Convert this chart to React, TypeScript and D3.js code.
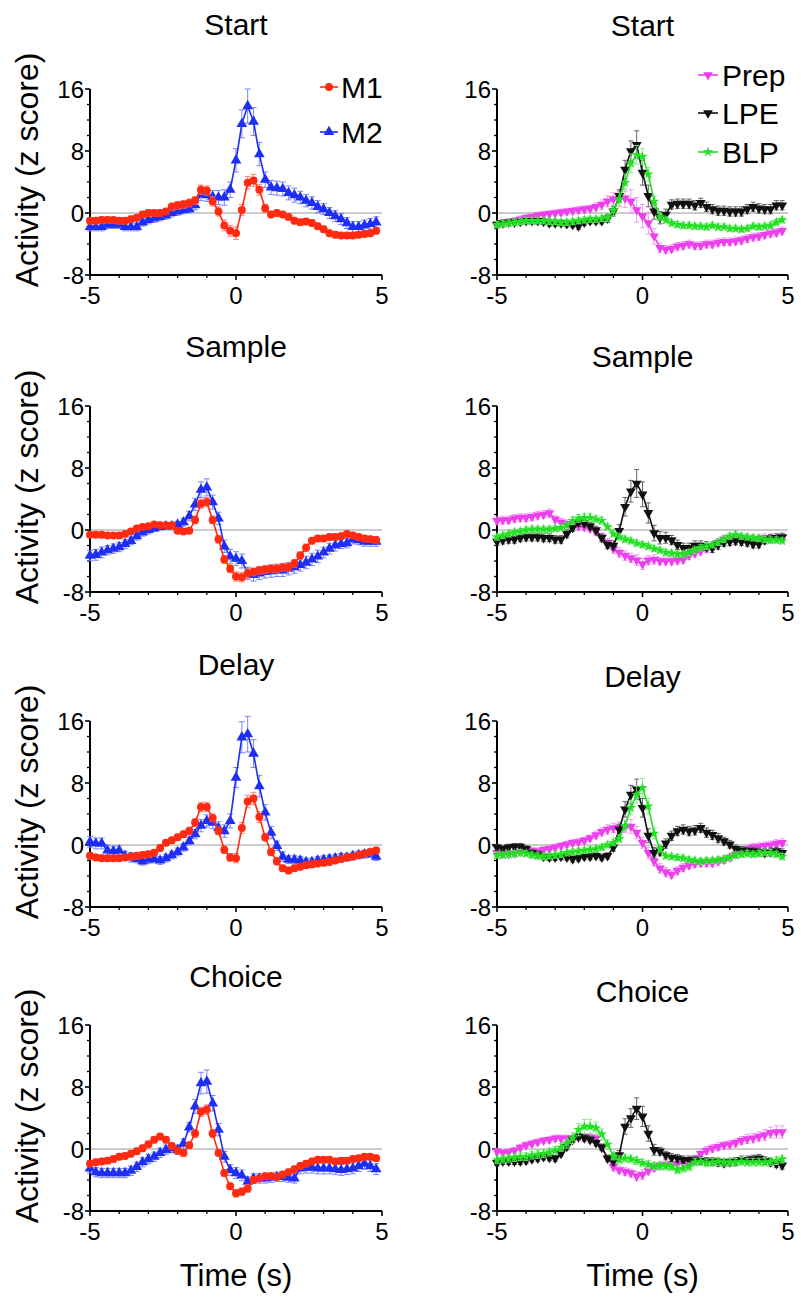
import * as d3 from "d3";

// time bins (s) shared by every trace
const TIME = [
  -5.0, -4.8, -4.6, -4.4, -4.2, -4.0, -3.8, -3.6, -3.4, -3.2,
  -3.0, -2.8, -2.6, -2.4, -2.2, -2.0, -1.8, -1.6, -1.4, -1.2,
  -1.0, -0.8, -0.6, -0.4, -0.2, 0.0, 0.2, 0.4, 0.6, 0.8,
  1.0, 1.2, 1.4, 1.6, 1.8, 2.0, 2.2, 2.4, 2.6, 2.8,
  3.0, 3.2, 3.4, 3.6, 3.8, 4.0, 4.2, 4.4, 4.6, 4.8,
];

const EVENTS = ["Start", "Sample", "Delay", "Choice"];
const Y_TICKS = [-8, 0, 8, 16];
const Y_MINOR = [-6, -4, -2, 2, 4, 6, 10, 12, 14];
const X_TICKS = [-5, 0, 5];
const X_MINOR = [-4, -3, -2, -1, 1, 2, 3, 4];

// ---- Start ----
const START_M1 = [
  -1.0, -1.0, -0.9, -0.9, -0.9, -1.0, -1.0, -0.8, -0.6, -0.2,
  0.0, 0.0, 0.0, 0.2, 0.8, 1.0, 1.1, 1.3, 1.6, 3.0,
  2.9, 1.5, 0.2, -1.6, -2.3, -2.6, 0.4, 3.9, 4.2, 3.0,
  0.6, -0.2, 0.0, -0.2, -0.5, -1.0, -1.2, -1.1, -1.3, -1.7,
  -2.1, -2.6, -2.8, -2.9, -2.9, -2.9, -2.8, -2.7, -2.6, -2.3,
];
const START_M1_ERR = [
  0.4, 0.4, 0.4, 0.4, 0.4, 0.4, 0.4, 0.4, 0.4, 0.4,
  0.4, 0.4, 0.4, 0.4, 0.5, 0.5, 0.5, 0.5, 0.5, 0.6,
  0.6, 0.6, 0.6, 0.7, 0.7, 0.8, 0.7, 0.8, 0.8, 0.7,
  0.5, 0.4, 0.4, 0.4, 0.4, 0.4, 0.4, 0.4, 0.4, 0.4,
  0.4, 0.4, 0.4, 0.4, 0.4, 0.4, 0.4, 0.4, 0.4, 0.4,
];
const START_M2 = [
  -1.8, -1.8, -1.8, -1.5, -1.5, -1.5, -1.8, -1.8, -1.8, -1.2,
  -0.9, -0.7, -0.5, -0.3, 0.0, 0.2, 0.4, 0.5, 1.0, 2.4,
  2.3, 2.1, 2.0, 2.0, 3.0, 6.8, 11.5, 13.8, 11.8, 7.6,
  4.3, 3.3, 3.2, 3.1, 2.6, 2.3, 2.0, 1.6, 1.3, 0.8,
  0.5, 0.0, -0.4, -0.8, -1.3, -1.8, -1.8, -1.6, -1.4, -1.2,
];
const START_M2_ERR = [
  0.5, 0.5, 0.5, 0.5, 0.5, 0.5, 0.5, 0.5, 0.5, 0.5,
  0.5, 0.5, 0.5, 0.5, 0.5, 0.5, 0.5, 0.5, 0.6, 0.8,
  0.8, 0.8, 0.9, 1.0, 1.0, 1.5, 1.8, 2.2, 1.8, 1.5,
  1.0, 0.9, 0.9, 0.9, 0.9, 0.9, 0.8, 0.8, 0.8, 0.8,
  0.7, 0.7, 0.7, 0.7, 0.7, 0.7, 0.7, 0.7, 0.7, 0.7,
];
const START_PREP = [
  -1.5, -1.3, -1.2, -1.0, -0.8, -0.6, -0.5, -0.3, -0.2, -0.1,
  0.0, 0.1, 0.2, 0.3, 0.4, 0.5, 0.6, 0.8, 1.1, 1.5,
  1.8, 1.8, 1.9, 1.5, 0.4, -0.4, -1.3, -3.0, -4.5, -4.7,
  -4.6, -4.3, -4.2, -4.0, -4.2, -4.2, -4.0, -4.0, -3.8, -3.7,
  -3.7, -3.6, -3.5, -3.3, -3.1, -3.0, -2.8, -2.6, -2.5, -2.3,
];
const START_PREP_ERR = [
  0.4, 0.4, 0.4, 0.4, 0.4, 0.4, 0.4, 0.4, 0.4, 0.4,
  0.4, 0.4, 0.4, 0.4, 0.4, 0.4, 0.4, 0.5, 0.6, 0.7,
  0.8, 1.0, 1.2, 1.5, 1.6, 1.5, 1.4, 1.0, 0.6, 0.5,
  0.5, 0.5, 0.5, 0.5, 0.5, 0.5, 0.5, 0.5, 0.5, 0.5,
  0.5, 0.5, 0.5, 0.5, 0.5, 0.5, 0.5, 0.5, 0.5, 0.5,
];
const START_LPE = [
  -1.5, -1.3, -1.2, -1.2, -1.1, -1.0, -1.0, -1.0, -1.1, -1.3,
  -1.3, -1.3, -1.4, -1.5, -1.7, -1.2, -1.0, -1.0, -1.0, -0.7,
  0.2, 2.2, 5.6, 8.0, 8.8, 5.2, 2.2, 0.2, -0.6, -0.2,
  1.1, 1.2, 1.2, 1.2, 1.0, 1.3, 0.8, 0.5, 0.3, 0.3,
  0.2, 0.2, 0.2, 0.5, 0.8, 0.6, 0.5, 0.5, 1.0, 1.0,
];
const START_LPE_ERR = [
  0.4, 0.4, 0.4, 0.4, 0.4, 0.4, 0.4, 0.4, 0.4, 0.4,
  0.4, 0.4, 0.4, 0.4, 0.4, 0.4, 0.4, 0.4, 0.4, 0.5,
  0.6, 0.8, 1.2, 1.3, 1.8, 1.6, 1.4, 1.0, 0.8, 0.7,
  0.6, 0.6, 0.6, 0.6, 0.6, 0.6, 0.6, 0.6, 0.6, 0.6,
  0.6, 0.6, 0.6, 0.6, 0.6, 0.6, 0.6, 0.6, 0.6, 0.6,
];
const START_BLP = [
  -1.5, -1.4, -1.3, -1.2, -1.1, -1.0, -1.0, -1.0, -1.0, -1.1,
  -1.1, -1.2, -1.2, -1.1, -1.0, -0.9, -0.8, -0.8, -0.7, -0.6,
  0.3, 1.8, 3.9, 6.4, 7.5, 7.3, 5.0, 1.5, -0.5, -0.9,
  -1.3, -1.5, -1.6, -1.6, -1.7, -1.7, -1.8, -1.6, -1.8, -1.8,
  -2.0, -2.0, -2.1, -2.0, -1.7, -1.8, -1.7, -1.6, -1.2, -0.9,
];
const START_BLP_ERR = [
  0.4, 0.4, 0.4, 0.4, 0.4, 0.4, 0.4, 0.4, 0.4, 0.4,
  0.4, 0.4, 0.4, 0.4, 0.4, 0.4, 0.4, 0.4, 0.4, 0.5,
  0.7, 0.9, 1.1, 1.2, 1.2, 1.0, 0.9, 0.7, 0.5, 0.4,
  0.4, 0.4, 0.4, 0.4, 0.4, 0.4, 0.4, 0.4, 0.4, 0.4,
  0.4, 0.4, 0.4, 0.4, 0.4, 0.4, 0.4, 0.4, 0.4, 0.4,
];

// ---- Sample ----
const SAMPLE_M1 = [
  -0.6, -0.6, -0.6, -0.7, -0.7, -0.7, -0.5, -0.2, 0.2, 0.4,
  0.5, 0.7, 0.6, 0.6, 0.6, -0.1, -0.2, -0.1, 1.3, 3.4,
  3.6, 1.3, -1.2, -3.8, -5.0, -6.0, -6.1, -5.6, -5.4, -5.2,
  -5.1, -5.0, -5.0, -4.8, -4.8, -4.3, -3.3, -2.3, -1.4, -1.1,
  -1.1, -0.9, -0.9, -0.8, -0.5, -0.7, -0.9, -1.1, -1.2, -1.3,
];
const SAMPLE_M1_ERR = [
  0.3, 0.3, 0.3, 0.3, 0.3, 0.3, 0.3, 0.3, 0.3, 0.3,
  0.3, 0.3, 0.3, 0.3, 0.3, 0.3, 0.3, 0.3, 0.5, 0.6,
  0.6, 0.5, 0.5, 0.5, 0.5, 0.6, 0.6, 0.6, 0.5, 0.5,
  0.5, 0.5, 0.5, 0.5, 0.5, 0.5, 0.5, 0.5, 0.4, 0.4,
  0.4, 0.4, 0.4, 0.4, 0.4, 0.4, 0.4, 0.4, 0.4, 0.4,
];
const SAMPLE_M2 = [
  -3.3, -3.2, -2.9, -2.6, -2.4, -2.2, -1.8, -1.4, -0.8, -0.3,
  0.0, 0.2, 0.4, 0.5, 0.5, 0.7, 1.0, 1.8, 3.3, 5.2,
  5.5, 3.6, 1.5, -2.1, -3.4, -3.7, -4.0, -5.6, -5.8, -5.6,
  -5.4, -5.3, -5.2, -5.2, -5.0, -4.8, -4.5, -4.2, -3.8, -3.4,
  -2.9, -2.4, -2.0, -1.8, -1.7, -1.2, -1.3, -1.5, -1.5, -1.5,
];
const SAMPLE_M2_ERR = [
  0.7, 0.7, 0.7, 0.6, 0.6, 0.6, 0.6, 0.5, 0.5, 0.5,
  0.5, 0.4, 0.4, 0.4, 0.4, 0.4, 0.5, 0.6, 0.8, 1.0,
  1.1, 0.9, 0.8, 0.8, 0.9, 0.9, 0.9, 0.8, 0.8, 0.8,
  0.8, 0.8, 0.8, 0.8, 0.8, 0.8, 0.8, 0.8, 0.8, 0.8,
  0.7, 0.7, 0.7, 0.6, 0.6, 0.6, 0.6, 0.6, 0.6, 0.6,
];
const SAMPLE_PREP = [
  1.2, 1.3, 1.3, 1.5, 1.6, 1.6, 1.7, 1.9, 2.0, 2.2,
  1.4, 1.0, 0.8, 0.6, 0.5, 0.4, 0.2, -0.2, -0.9, -1.6,
  -2.4, -2.9, -3.3, -3.6, -3.9, -4.4, -3.9, -3.8, -4.0, -4.0,
  -4.0, -3.9, -3.8, -3.3, -3.0, -2.7, -2.4, -2.1, -1.6, -1.2,
  -1.0, -1.0, -1.1, -1.2, -1.2, -1.1, -1.0, -1.0, -1.0, -1.0,
];
const SAMPLE_PREP_ERR = [
  0.5, 0.5, 0.5, 0.5, 0.5, 0.5, 0.5, 0.5, 0.5, 0.5,
  0.5, 0.5, 0.5, 0.5, 0.5, 0.5, 0.5, 0.5, 0.5, 0.5,
  0.6, 0.6, 0.6, 0.6, 0.7, 0.7, 0.6, 0.6, 0.5, 0.5,
  0.5, 0.5, 0.5, 0.5, 0.5, 0.5, 0.5, 0.5, 0.5, 0.5,
  0.5, 0.5, 0.5, 0.5, 0.5, 0.5, 0.5, 0.5, 0.5, 0.5,
];
const SAMPLE_LPE = [
  -1.5, -1.3, -1.2, -1.2, -1.0, -0.9, -0.9, -0.9, -1.0, -1.0,
  -1.2, -1.2, -0.5, 0.3, 1.0, 0.9, 0.5, 0.0, -1.0, -1.9,
  -2.0, -0.1, 3.0, 5.0, 6.0, 4.6, 2.2, -0.4, -1.0, -1.0,
  -1.3, -1.9, -2.3, -2.3, -2.0, -2.0, -2.1, -2.3, -1.9, -1.6,
  -1.5, -1.4, -1.5, -1.6, -1.8, -1.8, -1.3, -1.1, -1.0, -0.9,
];
const SAMPLE_LPE_ERR = [
  0.5, 0.5, 0.5, 0.5, 0.5, 0.5, 0.5, 0.5, 0.5, 0.5,
  0.5, 0.5, 0.5, 0.5, 0.5, 0.5, 0.5, 0.5, 0.5, 0.5,
  0.6, 0.8, 1.2, 1.4, 1.8, 1.6, 1.3, 1.0, 0.8, 0.7,
  0.6, 0.6, 0.6, 0.6, 0.6, 0.6, 0.6, 0.6, 0.6, 0.5,
  0.5, 0.5, 0.5, 0.5, 0.5, 0.5, 0.5, 0.5, 0.5, 0.5,
];
const SAMPLE_BLP = [
  -0.9, -0.7, -0.5, -0.3, -0.2, 0.0, 0.1, 0.1, 0.1, 0.1,
  0.2, 0.3, 0.6, 1.2, 1.5, 1.6, 1.6, 1.4, 1.2, 0.4,
  -0.5, -0.9, -1.2, -1.4, -1.7, -1.9, -2.1, -2.4, -2.6, -2.9,
  -3.0, -3.1, -3.1, -2.9, -2.6, -2.3, -2.1, -1.9, -1.6, -1.2,
  -0.8, -0.6, -0.8, -0.9, -1.0, -1.1, -1.2, -1.3, -1.3, -1.4,
];
const SAMPLE_BLP_ERR = [
  0.4, 0.4, 0.4, 0.4, 0.4, 0.4, 0.4, 0.4, 0.4, 0.4,
  0.4, 0.4, 0.4, 0.5, 0.5, 0.5, 0.5, 0.5, 0.5, 0.4,
  0.4, 0.4, 0.4, 0.4, 0.4, 0.4, 0.4, 0.4, 0.4, 0.4,
  0.4, 0.4, 0.4, 0.4, 0.4, 0.4, 0.4, 0.4, 0.4, 0.4,
  0.4, 0.4, 0.4, 0.4, 0.4, 0.4, 0.4, 0.4, 0.4, 0.4,
];

// ---- Delay ----
const DELAY_M1 = [
  -1.4, -1.6, -1.7, -1.7, -1.7, -1.7, -1.6, -1.5, -1.4, -1.3,
  -1.2, -1.0, -0.4, 0.3, 0.6, 1.0, 1.4, 1.8, 2.9, 4.9,
  4.9, 3.5, 1.8, -0.6, -1.6, -1.7, 2.2, 5.6, 6.0, 3.6,
  1.0, -0.9, -2.1, -3.0, -3.3, -3.0, -2.8, -2.6, -2.5, -2.4,
  -2.3, -2.2, -2.0, -1.8, -1.6, -1.5, -1.3, -1.1, -0.9, -0.7,
];
const DELAY_M1_ERR = [
  0.4, 0.4, 0.4, 0.4, 0.4, 0.4, 0.4, 0.4, 0.4, 0.4,
  0.4, 0.4, 0.4, 0.4, 0.4, 0.4, 0.4, 0.5, 0.5, 0.6,
  0.6, 0.5, 0.5, 0.5, 0.5, 0.6, 0.7, 0.8, 0.8, 0.7,
  0.5, 0.5, 0.5, 0.4, 0.4, 0.4, 0.4, 0.4, 0.4, 0.4,
  0.4, 0.4, 0.4, 0.4, 0.4, 0.4, 0.4, 0.4, 0.4, 0.4,
];
const DELAY_M2 = [
  0.4, 0.2, 0.2, -0.7, -0.8, -0.7, -1.4, -1.6, -1.8, -2.1,
  -1.9, -1.8, -2.0, -1.7, -1.3, -0.9, -0.3, 0.5, 1.4, 2.5,
  3.1, 2.9, 2.2, 1.8, 3.1, 8.7, 13.9, 14.3, 11.8, 7.6,
  4.2, 1.6, -0.1, -1.5, -1.9, -1.9, -2.0, -2.2, -2.2, -2.0,
  -1.9, -1.8, -1.7, -1.6, -1.6, -1.4, -1.3, -1.2, -1.1, -1.5,
];
const DELAY_M2_ERR = [
  0.7, 0.7, 0.7, 0.7, 0.6, 0.6, 0.6, 0.6, 0.5, 0.5,
  0.5, 0.5, 0.5, 0.5, 0.5, 0.5, 0.5, 0.5, 0.6, 0.8,
  0.8, 0.8, 0.8, 0.8, 0.9, 1.3, 2.0, 2.3, 1.8, 1.4,
  1.0, 0.8, 0.6, 0.6, 0.5, 0.5, 0.5, 0.5, 0.5, 0.5,
  0.5, 0.5, 0.5, 0.5, 0.5, 0.5, 0.5, 0.5, 0.5, 0.5,
];
const DELAY_PREP = [
  -1.0, -1.1, -1.2, -1.1, -0.9, -0.6, -0.7, -0.8, -0.6, -0.5,
  -0.3, -0.1, 0.1, 0.3, 0.4, 0.6, 0.9, 1.3, 1.7, 2.0,
  2.2, 2.3, 2.4, 2.4, 1.6, 0.3, -1.0, -2.1, -3.0, -3.5,
  -3.8, -3.3, -2.9, -2.6, -2.4, -2.3, -2.3, -2.3, -2.1, -1.9,
  -1.6, -1.2, -0.9, -0.5, -0.3, -0.2, -0.1, 0.0, 0.2, 0.3,
];
const DELAY_PREP_ERR = [
  0.4, 0.4, 0.4, 0.4, 0.4, 0.4, 0.4, 0.4, 0.4, 0.4,
  0.4, 0.4, 0.4, 0.4, 0.4, 0.4, 0.4, 0.5, 0.5, 0.6,
  0.6, 0.7, 0.8, 0.9, 0.8, 0.7, 0.7, 0.6, 0.6, 0.6,
  0.5, 0.5, 0.5, 0.5, 0.5, 0.5, 0.5, 0.5, 0.5, 0.5,
  0.5, 0.5, 0.5, 0.5, 0.5, 0.5, 0.5, 0.5, 0.5, 0.5,
];
const DELAY_LPE = [
  -0.3, -0.5, -0.3, -0.2, -0.2, -0.5, -1.0, -1.2, -1.5, -1.6,
  -1.6, -1.5, -1.6, -1.8, -1.7, -1.5, -1.5, -1.4, -1.6, -1.4,
  -0.3, 2.0, 4.6, 6.5, 7.2, 4.8, 1.2, -1.0, -0.8, 0.2,
  1.2, 1.8, 2.0, 1.8, 1.9, 2.2, 1.6, 1.3, 0.9, 0.5,
  0.1, -0.5, -0.7, -0.8, -0.8, -0.9, -1.0, -0.9, -0.8, -1.0,
];
const DELAY_LPE_ERR = [
  0.4, 0.4, 0.4, 0.4, 0.4, 0.4, 0.4, 0.4, 0.4, 0.4,
  0.4, 0.4, 0.4, 0.4, 0.4, 0.4, 0.4, 0.4, 0.4, 0.4,
  0.5, 0.7, 1.0, 1.2, 1.3, 1.2, 0.9, 0.7, 0.6, 0.6,
  0.6, 0.6, 0.6, 0.6, 0.6, 0.6, 0.6, 0.6, 0.6, 0.5,
  0.5, 0.5, 0.5, 0.5, 0.5, 0.5, 0.5, 0.5, 0.5, 0.5,
];
const DELAY_BLP = [
  -1.3, -1.3, -1.2, -1.1, -1.0, -1.1, -1.3, -1.4, -1.5, -1.4,
  -1.3, -1.2, -1.0, -0.9, -0.8, -0.7, -0.6, -0.5, -0.3, 0.0,
  0.3, 0.8, 2.5, 4.8, 6.5, 7.4, 5.0, 1.5, -0.5, -1.4,
  -1.5, -1.6, -1.7, -1.9, -2.0, -2.1, -2.0, -2.0, -1.9, -1.8,
  -1.6, -1.3, -1.2, -1.1, -1.2, -1.1, -1.0, -1.0, -1.2, -1.5,
];
const DELAY_BLP_ERR = [
  0.4, 0.4, 0.4, 0.4, 0.4, 0.4, 0.4, 0.4, 0.4, 0.4,
  0.4, 0.4, 0.4, 0.4, 0.4, 0.4, 0.4, 0.4, 0.4, 0.4,
  0.4, 0.5, 0.7, 0.9, 1.1, 1.2, 1.0, 0.7, 0.5, 0.4,
  0.4, 0.4, 0.4, 0.4, 0.4, 0.4, 0.4, 0.4, 0.4, 0.4,
  0.4, 0.4, 0.4, 0.4, 0.4, 0.4, 0.4, 0.4, 0.4, 0.4,
];

// ---- Choice ----
const CHOICE_M1 = [
  -1.9, -1.7, -1.6, -1.5, -1.3, -1.0, -0.9, -0.6, -0.3, 0.1,
  0.6, 1.2, 1.6, 1.2, 0.4, -0.2, -0.5, 0.5, 2.0, 4.8,
  5.1, 2.0, -0.5, -3.1, -4.8, -5.7, -5.5, -5.1, -4.0, -3.8,
  -3.5, -3.5, -3.6, -3.3, -3.0, -2.6, -2.2, -1.9, -1.6, -1.4,
  -1.4, -1.4, -1.6, -1.5, -1.5, -1.3, -1.2, -1.0, -1.0, -1.2,
];
const CHOICE_M1_ERR = [
  0.4, 0.4, 0.4, 0.4, 0.4, 0.4, 0.4, 0.4, 0.4, 0.4,
  0.4, 0.4, 0.4, 0.4, 0.4, 0.4, 0.4, 0.4, 0.5, 0.6,
  0.6, 0.5, 0.4, 0.4, 0.4, 0.5, 0.5, 0.5, 0.4, 0.4,
  0.4, 0.4, 0.4, 0.4, 0.4, 0.4, 0.4, 0.4, 0.4, 0.4,
  0.4, 0.4, 0.4, 0.4, 0.4, 0.4, 0.4, 0.4, 0.4, 0.4,
];
const CHOICE_M2 = [
  -2.5, -3.0, -3.1, -3.1, -3.1, -3.1, -3.1, -2.8, -2.3, -1.7,
  -1.3, -1.0, -0.5, -0.1, 0.1, -0.1, 0.7, 2.8, 5.5, 8.5,
  8.7, 5.9, 2.5, -1.0, -2.7, -3.1, -3.4, -4.2, -3.8, -3.8,
  -3.8, -3.7, -3.6, -3.6, -3.7, -3.8, -2.5, -2.4, -2.4, -2.5,
  -2.5, -2.5, -2.6, -2.7, -2.6, -2.5, -2.2, -1.9, -2.2, -2.6,
];
const CHOICE_M2_ERR = [
  0.6, 0.6, 0.6, 0.6, 0.6, 0.6, 0.6, 0.6, 0.6, 0.6,
  0.6, 0.6, 0.6, 0.6, 0.6, 0.6, 0.6, 0.6, 0.9, 1.4,
  1.5, 1.0, 0.8, 0.7, 0.7, 0.7, 0.7, 0.6, 0.6, 0.6,
  0.6, 0.6, 0.6, 0.6, 0.6, 0.6, 0.7, 0.7, 0.7, 0.7,
  0.7, 0.7, 0.7, 0.7, 0.7, 0.7, 0.7, 0.7, 0.7, 0.7,
];
const CHOICE_PREP = [
  -0.3, -0.5, -0.4, -0.2, 0.2, 0.5, 0.7, 0.9, 1.1, 1.2,
  1.4, 1.4, 1.4, 1.4, 1.5, 1.6, 1.5, 1.4, 0.3, -1.2,
  -2.3, -2.7, -2.9, -3.1, -3.5, -3.3, -2.8, -2.4, -2.1, -2.0,
  -1.9, -1.9, -1.9, -1.9, -1.3, -0.6, -0.2, 0.1, 0.3, 0.5,
  0.6, 0.8, 1.1, 1.3, 1.4, 1.6, 1.8, 2.1, 2.2, 2.2,
];
const CHOICE_PREP_ERR = [
  0.4, 0.4, 0.4, 0.4, 0.4, 0.4, 0.4, 0.4, 0.4, 0.4,
  0.4, 0.4, 0.4, 0.4, 0.4, 0.4, 0.4, 0.4, 0.4, 0.4,
  0.5, 0.5, 0.5, 0.5, 0.6, 0.6, 0.5, 0.5, 0.5, 0.5,
  0.5, 0.5, 0.5, 0.5, 0.5, 0.5, 0.5, 0.5, 0.5, 0.5,
  0.5, 0.5, 0.5, 0.6, 0.6, 0.6, 0.7, 0.7, 0.8, 0.8,
];
const CHOICE_LPE = [
  -1.8, -1.6, -1.6, -1.6, -1.6, -1.5, -1.3, -1.2, -1.0, -1.1,
  -1.2, -0.6, 0.3, 1.2, 1.6, 1.4, 1.2, 0.8, 0.2, -1.2,
  -1.6, -0.8, 2.9, 4.0, 5.2, 4.2, 2.0, -0.1, -0.3, -0.8,
  -1.1, -1.2, -1.4, -1.4, -1.4, -1.5, -1.6, -1.6, -1.7, -1.8,
  -1.7, -1.6, -1.4, -1.4, -1.3, -1.2, -1.5, -1.7, -1.9, -2.1,
];
const CHOICE_LPE_ERR = [
  0.4, 0.4, 0.4, 0.4, 0.4, 0.4, 0.4, 0.4, 0.4, 0.4,
  0.4, 0.4, 0.4, 0.4, 0.4, 0.4, 0.4, 0.4, 0.4, 0.4,
  0.5, 0.6, 1.0, 1.2, 1.4, 1.3, 1.0, 0.7, 0.5, 0.5,
  0.5, 0.5, 0.5, 0.5, 0.5, 0.5, 0.5, 0.5, 0.5, 0.5,
  0.5, 0.5, 0.5, 0.5, 0.5, 0.5, 0.5, 0.5, 0.5, 0.5,
];
const CHOICE_BLP = [
  -1.4, -1.3, -1.2, -1.1, -1.0, -1.0, -0.8, -0.7, -0.6, -0.4,
  -0.2, 0.2, 0.7, 1.4, 2.5, 2.9, 2.9, 2.7, 1.9, 0.6,
  -0.9, -1.4, -1.2, -1.3, -1.5, -1.8, -2.0, -2.2, -2.2, -2.2,
  -2.3, -2.7, -2.5, -2.3, -1.7, -1.6, -1.8, -1.7, -1.6, -1.7,
  -1.7, -1.7, -1.6, -1.7, -1.7, -1.7, -1.7, -1.6, -1.5, -1.3,
];
const CHOICE_BLP_ERR = [
  0.5, 0.5, 0.5, 0.5, 0.5, 0.5, 0.5, 0.5, 0.5, 0.5,
  0.5, 0.5, 0.6, 0.7, 0.8, 0.9, 0.9, 0.8, 0.7, 0.6,
  0.5, 0.5, 0.5, 0.5, 0.5, 0.5, 0.5, 0.5, 0.5, 0.5,
  0.5, 0.5, 0.5, 0.5, 0.5, 0.5, 0.5, 0.5, 0.5, 0.5,
  0.5, 0.5, 0.5, 0.5, 0.5, 0.5, 0.5, 0.5, 0.5, 0.5,
];

type Key = "M1" | "M2" | "Prep" | "LPE" | "BLP";
type Series = [Key, number[], number[]];

// drawing order: later entries sit on top
const LEFT_SERIES: Series[][] = [
  [["M2", START_M2, START_M2_ERR], ["M1", START_M1, START_M1_ERR]],
  [["M2", SAMPLE_M2, SAMPLE_M2_ERR], ["M1", SAMPLE_M1, SAMPLE_M1_ERR]],
  [["M2", DELAY_M2, DELAY_M2_ERR], ["M1", DELAY_M1, DELAY_M1_ERR]],
  [["M2", CHOICE_M2, CHOICE_M2_ERR], ["M1", CHOICE_M1, CHOICE_M1_ERR]],
];
const RIGHT_SERIES: Series[][] = [
  [["Prep", START_PREP, START_PREP_ERR], ["LPE", START_LPE, START_LPE_ERR], ["BLP", START_BLP, START_BLP_ERR]],
  [["Prep", SAMPLE_PREP, SAMPLE_PREP_ERR], ["LPE", SAMPLE_LPE, SAMPLE_LPE_ERR], ["BLP", SAMPLE_BLP, SAMPLE_BLP_ERR]],
  [["Prep", DELAY_PREP, DELAY_PREP_ERR], ["LPE", DELAY_LPE, DELAY_LPE_ERR], ["BLP", DELAY_BLP, DELAY_BLP_ERR]],
  [["Prep", CHOICE_PREP, CHOICE_PREP_ERR], ["LPE", CHOICE_LPE, CHOICE_LPE_ERR], ["BLP", CHOICE_BLP, CHOICE_BLP_ERR]],
];

const STYLE: Record<Key, { color: string; err: string; type: d3.SymbolType; size: number; flip: boolean }> = {
  M1: { color: "#ff2a12", err: "#ff7560", type: d3.symbolCircle, size: 50, flip: false },
  M2: { color: "#1e2ef5", err: "#6a78ff", type: d3.symbolTriangle, size: 50, flip: false },
  Prep: { color: "#ee3fee", err: "#f490f4", type: d3.symbolTriangle, size: 40, flip: true },
  LPE: { color: "#111111", err: "#555555", type: d3.symbolTriangle, size: 42, flip: true },
  BLP: { color: "#22e022", err: "#7aee7a", type: d3.symbolStar, size: 34, flip: false },
};

// layout
const FONT = "'Liberation Sans', Arial, Helvetica, sans-serif";
const ROW_TOP = [89, 406, 721, 1025];
const PLOT_H = 186;
const COL_LEFT = [90, 497];
const COL_WIDTH = [292, 291];
const TITLE_Y = [
  [35, 357, 675, 987],
  [36, 367, 687, 1002],
];
const LEGEND = [
  { keys: ["M1", "M2"] as Key[], x0: 320, x1: 338, tx: 341, ys: [87, 132] },
  { keys: ["Prep", "LPE", "BLP"] as Key[], x0: 698, x1: 718, tx: 722, ys: [75, 113, 152] },
];

function Marker({ k, cx, cy }: { k: Key; cx: number; cy: number }) {
  const s = STYLE[k];
  const d = d3.symbol().type(s.type).size(s.size)() as string;
  return (
    <path
      d={d}
      fill={s.color}
      transform={`translate(${cx},${cy})${s.flip ? " rotate(180)" : ""}`}
    />
  );
}

function Panel({ col, row }: { col: number; row: number }) {
  const left = COL_LEFT[col];
  const top = ROW_TOP[row];
  const x = d3.scaleLinear().domain([-5, 5]).range([left, left + COL_WIDTH[col]]);
  const y = d3.scaleLinear().domain([-8, 16]).range([top + PLOT_H, top]);
  const series = col === 0 ? LEFT_SERIES[row] : RIGHT_SERIES[row];
  const line = d3
    .line<number>()
    .x((_d, i) => x(TIME[i]))
    .y((d) => y(d));
  const cap = col === 0 ? 3 : 2.5;

  return (
    <g>
      <text x={x(0)} y={TITLE_Y[col][row]} textAnchor="middle" fontSize={30}>
        {EVENTS[row]}
      </text>

      <line x1={x(-5)} x2={x(5)} y1={y(0)} y2={y(0)} stroke="#9a9a9a" strokeWidth={1.2} />

      {/* y axis */}
      <line x1={left} x2={left} y1={y(-8)} y2={y(16)} stroke="#000" strokeWidth={2} />
      {Y_TICKS.map((t) => (
        <g key={`yt${t}`}>
          <line x1={left - 5} x2={left} y1={y(t)} y2={y(t)} stroke="#000" strokeWidth={1.6} />
          <text x={left - 6} y={y(t)} dy="0.36em" textAnchor="end" fontSize={24}>
            {t}
          </text>
        </g>
      ))}
      {Y_MINOR.map((t) => (
        <line key={`ym${t}`} x1={left - 3} x2={left} y1={y(t)} y2={y(t)} stroke="#000" strokeWidth={1.3} />
      ))}

      {/* x axis */}
      <line x1={x(-5)} x2={x(5)} y1={y(-8)} y2={y(-8)} stroke="#000" strokeWidth={2} />
      {X_TICKS.map((t) => (
        <g key={`xt${t}`}>
          <line x1={x(t)} x2={x(t)} y1={y(-8)} y2={y(-8) + 5} stroke="#000" strokeWidth={1.6} />
          <text x={x(t)} y={y(-8) + 29} textAnchor="middle" fontSize={24}>
            {t}
          </text>
        </g>
      ))}
      {X_MINOR.map((t) => (
        <line key={`xm${t}`} x1={x(t)} x2={x(t)} y1={y(-8)} y2={y(-8) + 3} stroke="#000" strokeWidth={1.3} />
      ))}

      {/* traces */}
      {series.map(([k, vals, errs]) => {
        const s = STYLE[k];
        return (
          <g key={k}>
            {vals.map((v, i) => {
              const cx = x(TIME[i]);
              const hi = y(v + errs[i]);
              const lo = y(v - errs[i]);
              return (
                <g key={i} stroke={s.err} strokeWidth={0.9}>
                  <line x1={cx} x2={cx} y1={hi} y2={lo} />
                  <line x1={cx - cap} x2={cx + cap} y1={hi} y2={hi} />
                  <line x1={cx - cap} x2={cx + cap} y1={lo} y2={lo} />
                </g>
              );
            })}
            <path d={line(vals) ?? ""} fill="none" stroke={s.color} strokeWidth={1.6} />
            {vals.map((v, i) => (
              <Marker key={i} k={k} cx={x(TIME[i])} cy={y(v)} />
            ))}
          </g>
        );
      })}

      {col === 0 && (
        <text
          transform={`translate(38,${top + PLOT_H / 2 - 12}) rotate(-90)`}
          textAnchor="middle"
          fontSize={32}
        >
          Activity (z score)
        </text>
      )}
      {row === 3 && (
        <text x={x(0)} y={1286} textAnchor="middle" fontSize={31}>
          Time (s)
        </text>
      )}
    </g>
  );
}

function Legend({ col }: { col: number }) {
  const L = LEGEND[col];
  return (
    <g>
      {L.keys.map((k, i) => (
        <g key={k}>
          <line x1={L.x0} x2={L.x1} y1={L.ys[i]} y2={L.ys[i]} stroke={STYLE[k].color} strokeWidth={1.6} />
          <Marker k={k} cx={(L.x0 + L.x1) / 2} cy={L.ys[i]} />
          <text x={L.tx} y={L.ys[i]} dy="0.36em" fontSize={30}>
            {k}
          </text>
        </g>
      ))}
    </g>
  );
}

export default function App() {
  return (
    <svg
      width={807}
      height={1300}
      viewBox="0 0 807 1300"
      style={{ position: "absolute", left: 0, top: 0, background: "#fff" }}
      fontFamily={FONT}
    >
      <rect width={807} height={1300} fill="#fff" />
      {[0, 1].map((col) =>
        [0, 1, 2, 3].map((row) => <Panel key={`${col}-${row}`} col={col} row={row} />)
      )}
      <Legend col={0} />
      <Legend col={1} />
    </svg>
  );
}
